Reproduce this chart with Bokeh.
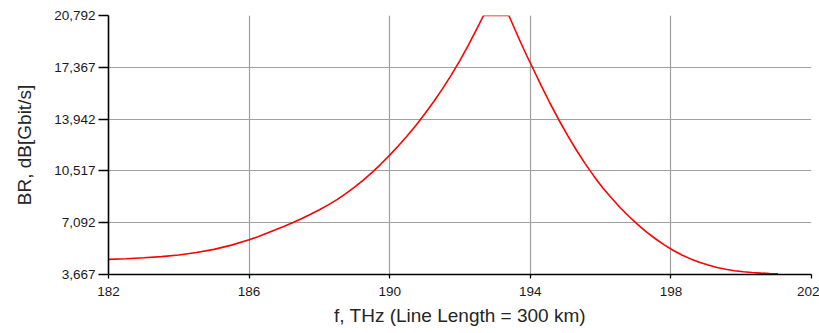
from bokeh.plotting import figure
from bokeh.models import FixedTicker, CustomJSTickFormatter, Range1d
from bokeh.embed import file_html
from bokeh.resources import INLINE

freq = [182.0, 182.5, 183.0, 183.5, 184.0, 184.5, 185.0, 185.5, 186.0, 186.25,
        186.5, 186.75, 187.0, 187.25, 187.5, 187.75, 188.0, 188.25, 188.5, 188.75,
        189.0, 189.25, 189.5, 189.75, 190.0, 190.25, 190.5, 190.75, 191.0, 191.25,
        191.5, 191.75, 192.0, 192.25, 192.5, 192.67,
        193.39, 193.56, 193.73, 193.9, 194.06, 194.31, 194.56, 194.81, 195.06, 195.31,
        195.56, 195.81, 196.06, 196.31, 196.56, 196.81, 197.06, 197.31, 197.56, 197.81,
        198.06, 198.31, 198.56, 198.81, 199.06, 199.31, 199.56, 199.81, 200.06, 200.31,
        200.56, 200.81, 201.05]
br = [4.67, 4.71, 4.77, 4.85, 4.96, 5.12, 5.33, 5.61, 5.96, 6.17,
      6.39, 6.62, 6.86, 7.11, 7.37, 7.65, 7.95, 8.27, 8.62, 9.01,
      9.44, 9.91, 10.42, 10.97, 11.56, 12.18, 12.84, 13.54, 14.29, 15.09,
      15.94, 16.85, 17.83, 18.88, 20.01, 20.792,
      20.792, 19.88, 18.99, 18.13, 17.37, 16.15, 14.99, 13.90, 12.87, 11.90,
      11.00, 10.17, 9.41, 8.72, 8.08, 7.50, 6.96, 6.47, 6.03, 5.63,
      5.27, 4.96, 4.70, 4.48, 4.29, 4.135, 4.01, 3.915, 3.845, 3.795,
      3.76, 3.735, 3.715]

x_ticks = [182, 186, 190, 194, 198, 202]
y_ticks = [3.667, 7.092, 10.517, 13.942, 17.367, 20.792]

p = figure(width=819, height=330, output_backend="svg", toolbar_location=None,
           x_range=Range1d(182, 202), y_range=Range1d(3.667, 20.792),
           min_border_left=108, min_border_top=15, min_border_right=8,
           min_border_bottom=56)
p.outline_line_color = None
p.background_fill_color = "white"

p.line(freq, br, line_color="#ff0000", line_width=1.6)

for ax in (p.xaxis[0], p.yaxis[0]):
    ax.axis_line_color = "black"
    ax.axis_line_width = 1.6
    ax.major_tick_line_color = "black"
    ax.major_tick_line_width = 1.3
    ax.major_tick_in = 0
    ax.minor_tick_line_color = None
    ax.major_label_text_font = "Liberation Sans"
    ax.major_label_text_font_size = "13.5px"
    ax.major_label_text_color = "#1a1a1a"
    ax.axis_label_text_font = "Liberation Sans"
    ax.axis_label_text_font_size = "19px"
    ax.axis_label_text_font_style = "normal"
    ax.axis_label_text_color = "#262626"

p.xaxis.ticker = FixedTicker(ticks=x_ticks)
p.yaxis.ticker = FixedTicker(ticks=y_ticks)
p.yaxis.formatter = CustomJSTickFormatter(code="return tick.toFixed(3).replace('.', ',');")
p.xaxis.axis_label = "f, THz (Line Length = 300 km)"
p.yaxis.axis_label = "BR, dB[Gbit/s]"
p.xaxis.major_tick_out = 4
p.yaxis.major_tick_out = 10
p.xaxis.major_label_standoff = 8
p.yaxis.major_label_standoff = 3
p.xaxis.axis_label_standoff = 6
p.yaxis.axis_label_standoff = 16

p.xgrid.grid_line_color = "#a0a0a0"
p.ygrid.grid_line_color = "#a0a0a0"
p.xgrid.grid_line_width = 1.2
p.ygrid.grid_line_width = 1.2

open("out.html", "w").write(file_html(p, INLINE))
